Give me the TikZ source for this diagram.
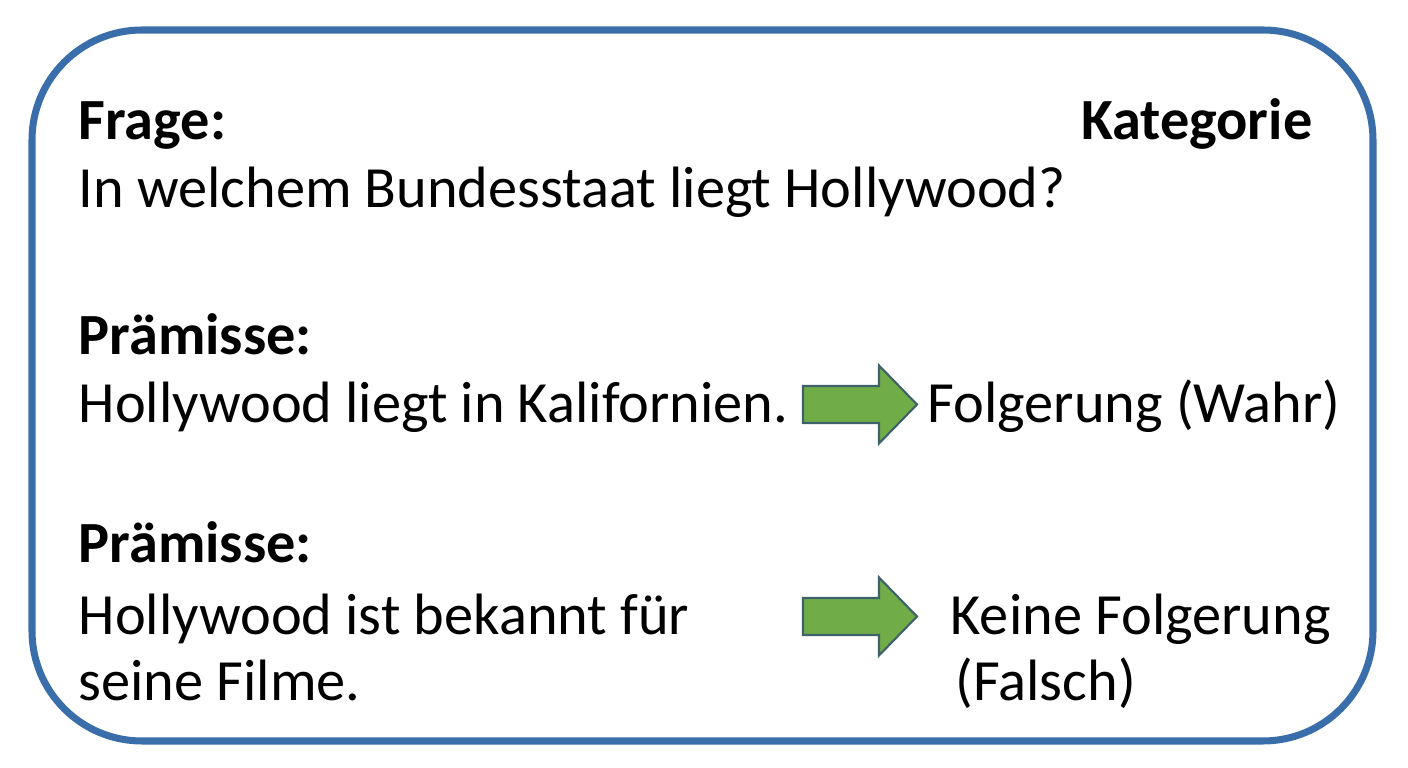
\documentclass[tikz,border=0pt]{standalone}
\usepackage{fontspec}
\setmainfont{Carlito}

\definecolor{frameblue}{RGB}{58,110,170}
\definecolor{arrowgreen}{RGB}{112,173,71}
\definecolor{arrowline}{RGB}{62,98,108}

\newcommand{\blockarrow}[1]{%
  \draw[greenarrow] (#1) ++(-0.57,0.185) -- ++(0.76,0) -- ++(0,0.205)
    -- ++(0.38,-0.39) -- ++(-0.38,-0.39) -- ++(0,0.205) -- ++(-0.76,0) -- cycle;}

\begin{document}
\begin{tikzpicture}[
  txt/.style={anchor=base west,inner sep=0pt,font=\fontsize{16.6}{20}\selectfont},
  head/.style={txt,font=\fontsize{16.6}{20}\selectfont\bfseries},
  greenarrow/.style={draw=arrowline,fill=arrowgreen,line width=0.6pt,line join=miter}
]
\useasboundingbox (0,0) rectangle (14.08,7.68);
\draw[frameblue,line width=2pt,rounded corners=1.1cm] (0.32,0.27) rectangle (13.73,7.38);

% question
\node[head] (frage) at (0.78,6.28) {Frage:};
\node[head,anchor=base east] (kat) at (13.13,6.28) {Kategorie};
\node[txt] (question) at (0.78,5.60) {In welchem Bundesstaat liegt Hollywood?};

% first premise
\node[head] (praemA) at (0.78,4.13) {Prämisse:};
\node[txt] (hypA) at (0.78,3.45) {Hollywood liegt in Kalifornien.};
\coordinate (arrA) at (8.60,3.635);
\blockarrow{arrA}
\node[txt] (folgA) at (9.27,3.45) {Folgerung (Wahr)};

% second premise
\node[head] (praemB) at (0.78,2.05) {Prämisse:};
\node[txt] (hypB) at (0.78,1.33) {Hollywood ist bekannt für};
\node[txt] (hypBb) at (0.78,0.67) {seine Filme.};
\coordinate (arrB) at (8.60,1.515);
\blockarrow{arrB}
\node[txt] (folgB) at (9.50,1.33) {Keine Folgerung};
\node[txt] (folgBb) at (9.55,0.67) {(Falsch)};
\end{tikzpicture}
\end{document}
